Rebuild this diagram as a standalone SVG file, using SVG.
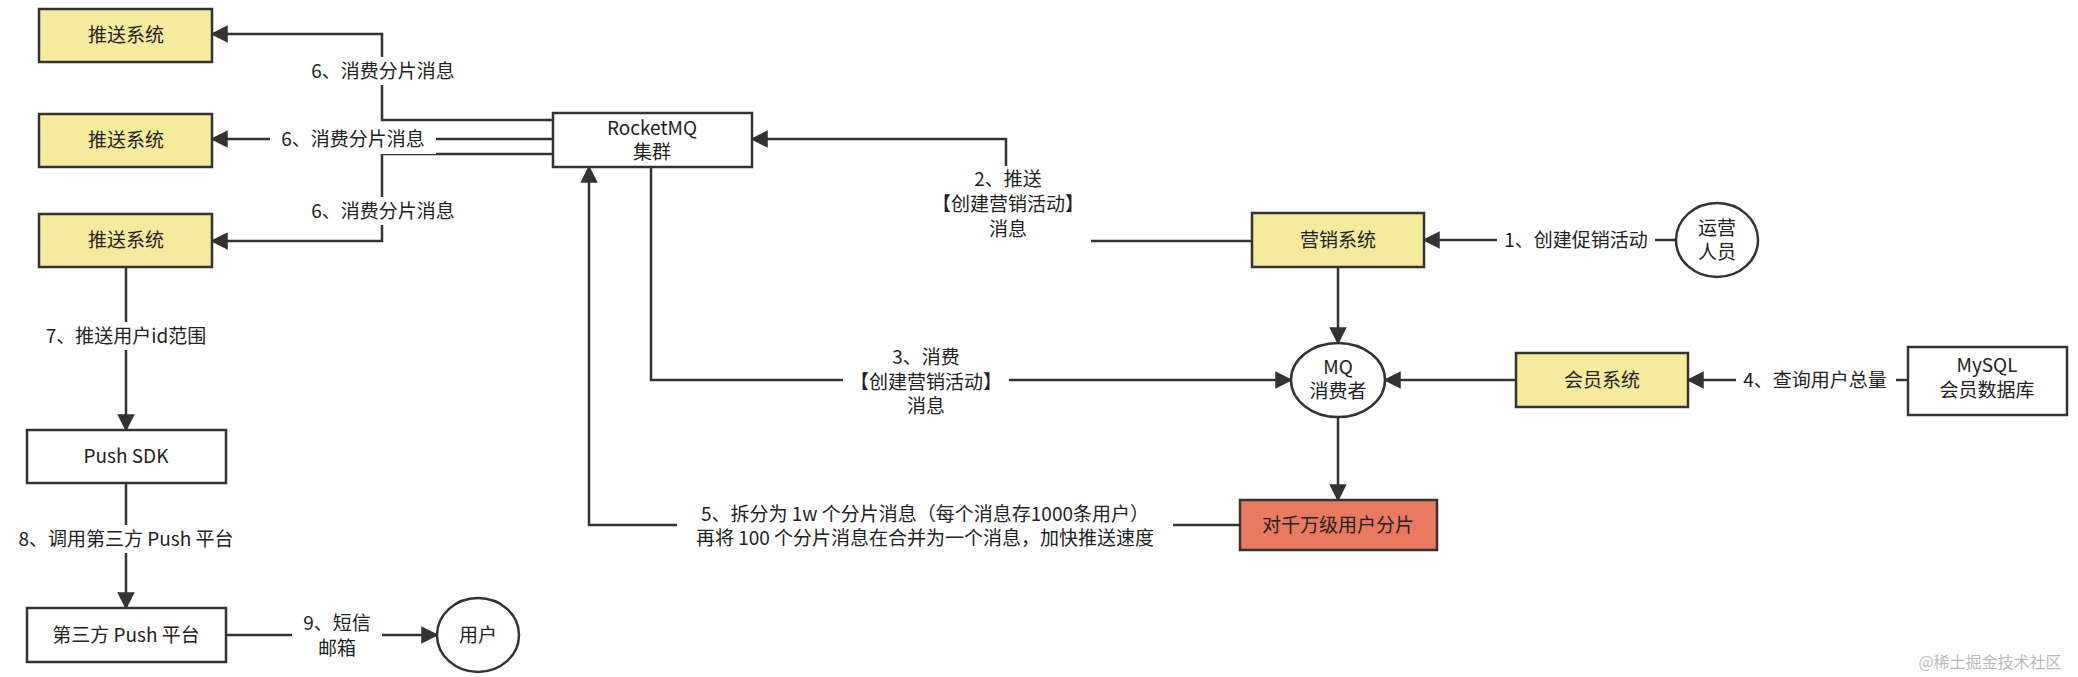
<svg xmlns="http://www.w3.org/2000/svg" width="2078" height="677" viewBox="0 0 2078 677">
<style>
text{font-family:"Noto Sans CJK SC","Liberation Sans",sans-serif;font-size:19px;fill:#222;text-anchor:middle}
.box{stroke:#333;stroke-width:2.5}
.y{fill:#f6ea9c}.w{fill:#fff}.r{fill:#e97a5f}
.e{stroke:#333;stroke-width:2.5;fill:none}
.bg{fill:#fff}
</style>
<defs><marker id="a" viewBox="0 0 10 10" refX="9" refY="5" markerWidth="7" markerHeight="7" orient="auto"><path d="M0,0L10,5L0,10z" fill="#333"/></marker></defs>
<g id="connectors">
<path class="e" d="M553,120H382V34H212" marker-end="url(#a)"/>
<path class="e" d="M553,139H212" marker-end="url(#a)"/>
<path class="e" d="M553,154H382V241H212" marker-end="url(#a)"/>
<path class="e" d="M126,267V430" marker-end="url(#a)"/>
<path class="e" d="M126,483V608" marker-end="url(#a)"/>
<path class="e" d="M226,635H437" marker-end="url(#a)"/>
<path class="e" d="M1252,241H1006V139H752" marker-end="url(#a)"/>
<path class="e" d="M1676,240H1424" marker-end="url(#a)"/>
<path class="e" d="M1338,267V343" marker-end="url(#a)"/>
<path class="e" d="M651,167V380H1291" marker-end="url(#a)"/>
<path class="e" d="M1516,380H1385" marker-end="url(#a)"/>
<path class="e" d="M1908,380H1688" marker-end="url(#a)"/>
<path class="e" d="M1338,417V500" marker-end="url(#a)"/>
<path class="e" d="M1240,525H589V167" marker-end="url(#a)"/>
<rect class="bg" x="300" y="57" width="166" height="28"/><text x="383" y="78">6、消费分片消息</text>
<rect class="bg" x="270" y="126" width="166" height="28"/><text x="353" y="146">6、消费分片消息</text>
<rect class="bg" x="300" y="197" width="166" height="28"/><text x="383" y="218">6、消费分片消息</text>
<rect class="bg" x="22" y="322" width="208" height="28"/><text x="126" y="343">7、推送用户id范围</text>
<rect class="bg" x="2" y="525" width="248" height="28"/><text x="126" y="546">8、调用第三方 Push 平台</text>
<rect class="bg" x="292" y="611" width="90" height="50"/><text x="337" y="630">9、短信</text><text x="337" y="655">邮箱</text>
<rect class="bg" x="925" y="166" width="166" height="78"/><text x="1008" y="186">2、推送</text><text x="1008" y="211">【创建营销活动】</text><text x="1008" y="236">消息</text>
<rect class="bg" x="1497" y="226" width="158" height="28"/><text x="1576" y="247">1、创建促销活动</text>
<rect class="bg" x="843" y="345" width="166" height="76"/><text x="926" y="364">3、消费</text><text x="926" y="389">【创建营销活动】</text><text x="926" y="413">消息</text>
<rect class="bg" x="1736" y="366" width="160" height="28"/><text x="1815" y="387">4、查询用户总量</text>
<rect class="bg" x="677" y="500" width="496" height="50"/><text x="925" y="521">5、拆分为 1w 个分片消息（每个消息存1000条用户）</text><text x="925" y="545">再将 100 个分片消息在合并为一个消息，加快推送速度</text>
</g>
<g id="push1"><rect class="box y" x="39" y="9" width="173" height="53"/><text x="126" y="42">推送系统</text></g>
<g id="push2"><rect class="box y" x="39" y="114" width="173" height="53"/><text x="126" y="147">推送系统</text></g>
<g id="push3"><rect class="box y" x="39" y="214" width="173" height="53"/><text x="126" y="247">推送系统</text></g>
<g id="rocketmq"><rect class="box w" x="553" y="113" width="199" height="54"/><text x="652" y="135">RocketMQ</text><text x="652" y="159">集群</text></g>
<g id="pushsdk"><rect class="box w" x="27" y="430" width="199" height="53"/><text x="126" y="463">Push SDK</text></g>
<g id="thirdpush"><rect class="box w" x="27" y="608" width="199" height="54"/><text x="126" y="642">第三方 Push 平台</text></g>
<g id="user"><ellipse class="box w" cx="478" cy="635" rx="41" ry="37"/><text x="478" y="642">用户</text></g>
<g id="marketing"><rect class="box y" x="1252" y="213" width="172" height="54"/><text x="1338" y="247">营销系统</text></g>
<g id="operator"><ellipse class="box w" cx="1717" cy="240" rx="41" ry="37"/><text x="1717" y="235">运营</text><text x="1717" y="259">人员</text></g>
<g id="mqconsumer"><ellipse class="box w" cx="1338" cy="380" rx="47" ry="37"/><text x="1338" y="374">MQ</text><text x="1338" y="398">消费者</text></g>
<g id="member"><rect class="box y" x="1516" y="353" width="172" height="54"/><text x="1602" y="387">会员系统</text></g>
<g id="mysql"><rect class="box w" x="1908" y="347" width="159" height="68"/><text x="1987" y="372">MySQL</text><text x="1987" y="397">会员数据库</text></g>
<g id="shard"><rect class="box r" x="1240" y="500" width="197" height="50"/><text x="1338" y="532">对千万级用户分片</text></g>
<text x="1990" y="668" style="font-size:16px;fill:#bbb">@稀土掘金技术社区</text>
</svg>
